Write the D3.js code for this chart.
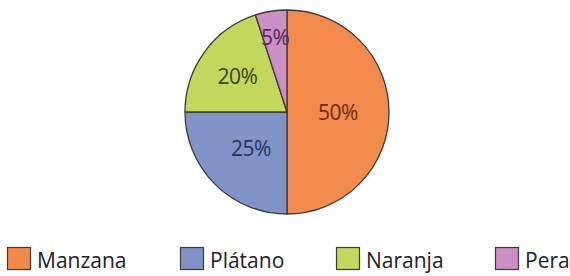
<!DOCTYPE html>
<html>
<head>
<meta charset="utf-8">
<script src="https://cdn.jsdelivr.net/npm/d3@7"></script>
<style>
  body { margin: 0; background: #fff; }
  svg { display: block; font-family: "Open Sans", sans-serif; }
</style>
</head>
<body>
<svg id="chart" width="570" height="276"></svg>
<script>
var fruits = ["Manzana", "Plátano", "Naranja", "Pera"]
var shares = [50, 25, 20, 5]

var fills = ["#f38b4c", "#8094c8", "#c2d75b", "#cb8ec5"]
var labelColors = ["#6a2d0e", "#27325c", "#34440e", "#55255a"]
// how far out each % label sits, as a fraction of the radius
var labelPos = [0.5, 0.5, 0.6, 0.74]
var legendX = [7, 180, 336, 495]

var svg = d3.select("svg#chart")
var cx = 287, cy = 112, r = 102

var pie = d3.pie().sort(null).value(function (d) { return d })
var arcs = pie(shares)
var arc = d3.arc().innerRadius(0).outerRadius(r)

var g = svg.append("g").attr("transform", "translate(" + cx + "," + cy + ")")

g.selectAll("path.slice").data(arcs).enter()
    .append("path")
    .attr("class", "slice")
    .attr("d", arc)
    .attr("fill", function (d, i) { return fills[i] })
    .attr("stroke", "#3b3b3b")
    .attr("stroke-width", 1.3)
    .attr("stroke-linejoin", "round")

g.selectAll("text.pct").data(arcs).enter()
    .append("text")
    .attr("class", "pct")
    .attr("transform", function (d, i) {
        var lr = r * labelPos[i]
        var p = d3.arc().innerRadius(lr).outerRadius(lr).centroid(d)
        return "translate(" + p[0] + "," + p[1] + ")"
    })
    .attr("text-anchor", "middle")
    .attr("dy", "0.36em")
    .attr("fill", function (d, i) { return labelColors[i] })
    .style("font-size", "21px")
    .style("letter-spacing", "-0.5px")
    .text(function (d) { return d.data + "%" })

var legend = svg.append("g")
var items = legend.selectAll("g.item").data(fruits).enter()
    .append("g")
    .attr("class", "item")
    .attr("transform", function (d, i) { return "translate(" + legendX[i] + ",247)" })

items.append("rect")
    .attr("x", 0.5).attr("y", 0.5)
    .attr("width", 23).attr("height", 22)
    .attr("fill", function (d, i) { return fills[i] })
    .attr("stroke", "#3b3b3b")
    .attr("stroke-width", 1.2)

items.append("text")
    .attr("x", 30)
    .attr("y", 21)
    .attr("fill", "#222")
    .style("font-size", "21px")
    .text(function (d) { return d })
</script>
</body>
</html>
